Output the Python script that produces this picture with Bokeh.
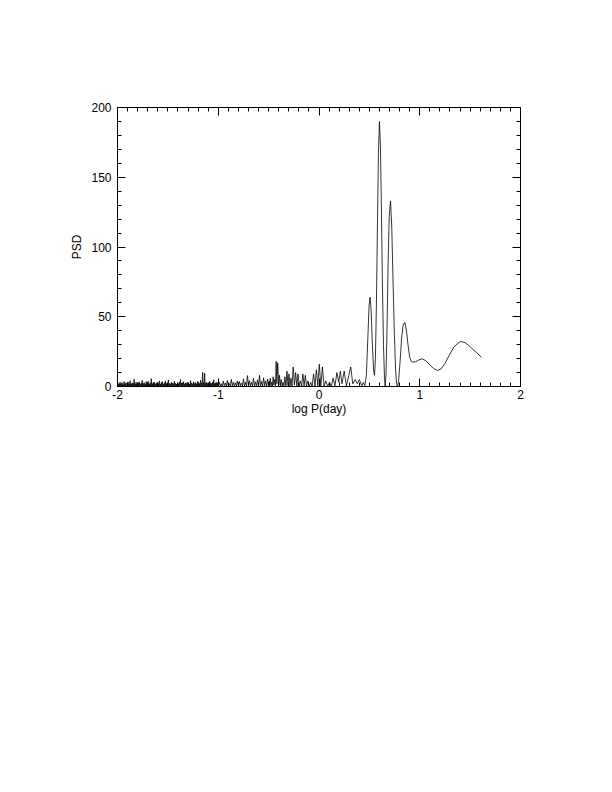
from bokeh.plotting import figure
from bokeh.models import Range1d, LinearAxis, FixedTicker
from bokeh.embed import file_html
from bokeh.resources import INLINE

# ---- data ----
# dense short-period noise, -2.0 .. -1.0 (log P)
dense_logp = [
    -2.000, -1.995, -1.990, -1.985, -1.980, -1.975, -1.970, -1.965, -1.960, -1.955,
    -1.950, -1.945, -1.940, -1.935, -1.930, -1.925, -1.920, -1.915, -1.910, -1.905,
    -1.900, -1.895, -1.890, -1.885, -1.880, -1.875, -1.870, -1.865, -1.860, -1.855,
    -1.850, -1.845, -1.840, -1.835, -1.830, -1.825, -1.820, -1.815, -1.810, -1.805,
    -1.800, -1.795, -1.790, -1.785, -1.780, -1.775, -1.770, -1.765, -1.760, -1.755,
    -1.750, -1.745, -1.740, -1.735, -1.730, -1.725, -1.720, -1.715, -1.710, -1.705,
    -1.700, -1.695, -1.690, -1.685, -1.680, -1.675, -1.670, -1.665, -1.660, -1.655,
    -1.650, -1.645, -1.640, -1.635, -1.630, -1.625, -1.620, -1.615, -1.610, -1.605,
    -1.600, -1.595, -1.590, -1.585, -1.580, -1.575, -1.570, -1.565, -1.560, -1.555,
    -1.550, -1.545, -1.540, -1.535, -1.530, -1.525, -1.520, -1.515, -1.510, -1.505,
    -1.500, -1.495, -1.490, -1.485, -1.480, -1.475, -1.470, -1.465, -1.460, -1.455,
    -1.450, -1.445, -1.440, -1.435, -1.430, -1.425, -1.420, -1.415, -1.410, -1.405,
    -1.400, -1.395, -1.390, -1.385, -1.380, -1.375, -1.370, -1.365, -1.360, -1.355,
    -1.350, -1.345, -1.340, -1.335, -1.330, -1.325, -1.320, -1.315, -1.310, -1.305,
    -1.300, -1.295, -1.290, -1.285, -1.280, -1.275, -1.270, -1.265, -1.260, -1.255,
    -1.250, -1.245, -1.240, -1.235, -1.230, -1.225, -1.220, -1.215, -1.210, -1.205,
    -1.200, -1.195, -1.190, -1.185, -1.180, -1.175, -1.170, -1.165, -1.160, -1.155,
    -1.150, -1.145, -1.140, -1.135, -1.130, -1.125, -1.120, -1.115, -1.110, -1.105,
    -1.100, -1.095, -1.090, -1.085, -1.080, -1.075, -1.070, -1.065, -1.060, -1.055,
    -1.050, -1.045, -1.040, -1.035, -1.030, -1.025, -1.020, -1.015, -1.010, -1.005,
]
dense_psd = [
    0.3, 2.5, 0.6, 1.8, 0.2, 3.1, 0.5, 2.0, 0.3, 2.9,
    0.4, 1.6, 0.2, 3.6, 0.5, 2.2, 0.3, 2.7, 0.6, 1.9,
    0.2, 3.3, 0.4, 2.1, 0.5, 4.1, 0.3, 1.7, 0.6, 2.6,
    0.3, 2.3, 0.2, 5.2, 0.5, 2.0, 0.4, 3.0, 0.2, 1.8,
    0.5, 2.7, 0.3, 3.3, 0.6, 1.9, 0.2, 2.4, 0.4, 4.4,
    0.3, 2.1, 0.5, 2.8, 0.2, 1.6, 0.4, 3.5, 0.3, 2.2,
    0.6, 3.8, 0.2, 2.0, 0.4, 2.6, 0.3, 5.6, 0.5, 1.9,
    0.2, 2.8, 0.4, 3.2, 0.3, 1.7, 0.6, 2.5, 0.2, 3.0,
    0.4, 2.3, 0.3, 4.0, 0.5, 1.8, 0.2, 2.9, 0.4, 3.5,
    0.3, 1.7, 0.5, 2.6, 0.2, 3.9, 0.4, 2.1, 0.3, 2.4,
    0.5, 4.6, 0.2, 2.2, 0.4, 1.9, 0.3, 3.0, 0.6, 2.5,
    0.2, 2.0, 0.4, 3.9, 0.3, 2.3, 0.5, 1.8, 0.2, 2.7,
    0.4, 2.1, 0.3, 3.1, 0.5, 5.0, 0.2, 2.4, 0.4, 2.7,
    0.3, 3.4, 0.6, 1.9, 0.2, 2.6, 0.4, 2.2, 0.3, 3.1,
    0.5, 2.4, 0.2, 1.8, 0.4, 4.2, 0.3, 2.5, 0.6, 2.0,
    0.2, 3.3, 0.4, 2.2, 0.3, 2.8, 0.5, 1.9, 0.2, 3.6,
    0.4, 2.8, 0.3, 2.1, 0.5, 4.5, 0.2, 2.6, 0.4, 10.2,
    0.3, 3.0, 0.5, 9.5, 0.2, 2.4, 0.4, 3.0, 0.3, 2.3,
    0.5, 2.0, 0.2, 3.7, 0.4, 2.6, 0.3, 2.1, 0.5, 3.3,
    0.2, 4.8, 0.4, 2.2, 0.3, 2.6, 0.5, 3.1, 0.2, 2.4,
]

# noise, -1.0 .. -0.51
noise_logp = [
    -1.00, -0.99, -0.98, -0.97, -0.96, -0.95, -0.94, -0.93, -0.92, -0.91,
    -0.90, -0.89, -0.88, -0.87, -0.86, -0.85, -0.84, -0.83, -0.82, -0.81,
    -0.80, -0.79, -0.78, -0.77, -0.76, -0.75, -0.74, -0.73, -0.72, -0.71,
    -0.70, -0.69, -0.68, -0.67, -0.66, -0.65, -0.64, -0.63, -0.62, -0.61,
    -0.60, -0.59, -0.58, -0.57, -0.56, -0.55, -0.54, -0.53, -0.52, -0.51,
]
noise_psd = [
    0.3, 3.2, 0.4, 2.0, 0.2, 3.9, 0.6, 2.5, 0.3, 4.3,
    0.4, 2.2, 0.3, 5.1, 0.5, 3.0, 0.2, 2.7, 0.4, 4.0,
    0.3, 3.6, 0.5, 2.4, 0.2, 5.5, 0.4, 3.1, 0.3, 7.8,
    0.5, 4.2, 0.3, 3.0, 0.6, 5.9, 0.2, 3.4, 0.4, 4.8,
    0.3, 8.0, 0.5, 3.7, 0.2, 6.2, 0.6, 4.1, 0.3, 5.4,
]

mid_logp = [
    -0.500, -0.495, -0.490, -0.483, -0.476, -0.469, -0.462, -0.455, -0.448, -0.440,
    -0.432, -0.425, -0.418, -0.410, -0.400, -0.392, -0.384, -0.375, -0.366, -0.357,
    -0.348, -0.338, -0.328, -0.318, -0.308, -0.298, -0.288, -0.278, -0.268, -0.256,
    -0.244, -0.232, -0.220, -0.208, -0.196, -0.184, -0.172, -0.160, -0.148, -0.136,
    -0.124, -0.110, -0.096, -0.082, -0.068, -0.054, -0.040, -0.026, -0.012, 0.003,
    0.018, 0.034, 0.050, 0.068, 0.086, 0.104, 0.122, 0.140, 0.158, 0.178,
    0.196, 0.212, 0.228, 0.250, 0.272, 0.296, 0.315, 0.335, 0.360, 0.380,
    0.400, 0.425, 0.440,
]
mid_psd = [
    0.3, 4.0, 0.5, 6.0, 0.5, 3.0, 0.3, 7.0, 1.0, 5.0,
    0.5, 18.0, 2.0, 17.0, 1.0, 8.0, 0.5, 5.0, 0.3, 3.0,
    0.5, 7.0, 0.3, 11.0, 1.0, 9.0, 0.5, 6.0, 0.3, 14.0,
    1.0, 10.0, 0.5, 9.0, 0.3, 4.0, 0.3, 9.0, 0.5, 8.0,
    0.3, 4.0, 0.2, 3.0, 0.2, 9.0, 0.3, 12.0, 0.5, 16.0,
    0.3, 14.0, 0.2, 4.0, 0.1, 3.0, 0.1, 6.0, 0.5, 10.0,
    3.0, 11.0, 2.0, 11.0, 0.5, 8.0, 14.0, 2.0, 5.0, 2.0,
    5.0, 0.5, 3.0,
]

peak_logp = [
    0.455, 0.470, 0.485, 0.497, 0.507, 0.517, 0.530, 0.542, 0.551, 0.560,
    0.570, 0.580, 0.590, 0.600, 0.610, 0.620, 0.630, 0.640, 0.650, 0.657,
    0.665, 0.675, 0.685, 0.697, 0.710, 0.722, 0.735, 0.748, 0.760, 0.770,
    0.780, 0.790, 0.805, 0.820, 0.835, 0.852, 0.868, 0.885, 0.900, 0.915,
    0.932, 0.960, 0.990, 1.025, 1.060, 1.100, 1.140, 1.174, 1.210, 1.250,
    1.290, 1.340, 1.403, 1.450, 1.500, 1.560, 1.612,
]
peak_psd = [
    0.5, 8.0, 35.0, 58.0, 64.0, 55.0, 30.0, 12.0, 8.0, 20.0,
    60.0, 115.0, 168.0, 190.0, 172.0, 125.0, 72.0, 30.0, 6.0, 0.0,
    8.0, 40.0, 85.0, 122.0, 133.0, 115.0, 75.0, 38.0, 12.0, 2.0,
    0.0, 4.0, 18.0, 35.0, 44.0, 46.0, 40.0, 29.0, 21.0, 18.0,
    17.4, 17.8, 19.0, 19.8, 18.5, 15.5, 12.8, 11.5, 12.5, 16.5,
    22.0, 28.5, 32.3, 31.5, 28.5, 24.5, 21.0,
]

x_major = [-2, -1, 0, 1, 2]
x_labels = {-2: "-2", -1: "-1", 0: "0", 1: "1", 2: "2"}
y_major = [0, 50, 100, 150, 200]

logp = dense_logp + noise_logp + mid_logp + peak_logp
psd = dense_psd + noise_psd + mid_psd + peak_psd

FONT = "Liberation Sans"

p = figure(width=568, height=428, output_backend="svg", toolbar_location=None,
           x_range=Range1d(-2, 2), y_range=Range1d(0, 200),
           min_border_left=117, min_border_right=48, min_border_top=107,
           min_border_bottom=42)
p.xgrid.visible = False
p.ygrid.visible = False
p.outline_line_color = "black"
p.background_fill_color = "white"
p.border_fill_color = "white"

p.line(logp, psd, line_color="black", line_width=0.8)

x_minor = [round(-2 + 0.1 * i, 2) for i in range(41)]
y_minor = list(range(0, 201, 10))

def style(ax, show_labels):
    ax.axis_line_color = "black"
    ax.major_tick_line_color = "black"
    ax.minor_tick_line_color = "black"
    ax.major_tick_in = 8
    ax.major_tick_out = 0
    ax.minor_tick_in = 4
    ax.minor_tick_out = 0
    ax.major_label_text_font = FONT
    ax.major_label_text_font_size = "12px"
    ax.major_label_text_color = "black" if show_labels else None
    ax.axis_label_text_font = FONT
    ax.axis_label_text_font_size = "12px"
    ax.axis_label_text_font_style = "normal"
    ax.axis_label_text_color = "black"

xa = p.xaxis[0]
xa.ticker = FixedTicker(ticks=x_major, minor_ticks=x_minor)
style(xa, True)
xa.major_label_overrides = x_labels
xa.axis_label = "log P(day)"
xa.major_label_standoff = 3
xa.axis_label_standoff = 0

ya = p.yaxis[0]
ya.ticker = FixedTicker(ticks=y_major, minor_ticks=y_minor)
style(ya, True)
ya.axis_label = "PSD"
ya.major_label_standoff = 6
ya.axis_label_standoff = 4

top = LinearAxis(ticker=FixedTicker(ticks=x_major, minor_ticks=x_minor))
style(top, False)
p.add_layout(top, "above")
right = LinearAxis(ticker=FixedTicker(ticks=y_major, minor_ticks=y_minor))
style(right, False)
p.add_layout(right, "right")

open("out.html", "w").write(file_html(p, INLINE))
